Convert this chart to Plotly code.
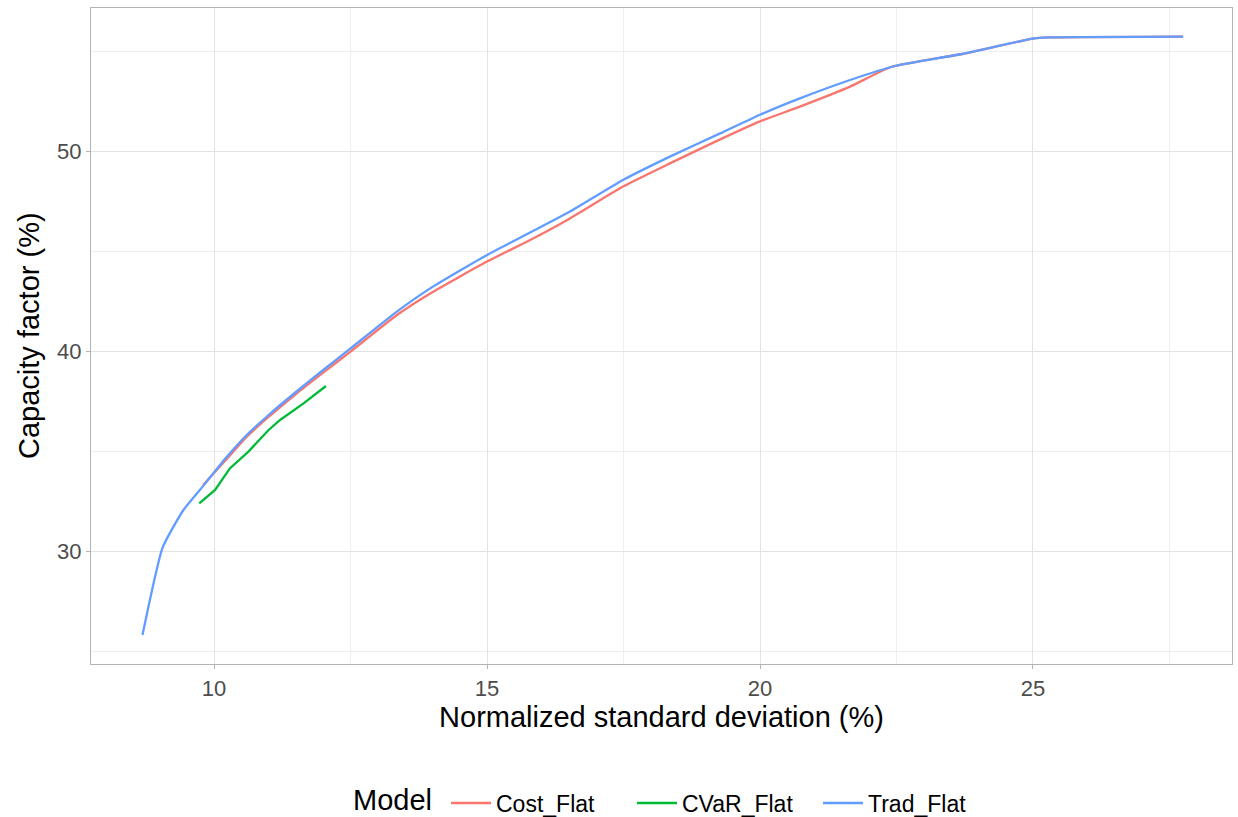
import plotly.graph_objects as go

# Efficient frontiers: normalized standard deviation (%) vs capacity factor (%)
cost_sd = [9.8, 10.2, 10.6, 11.0, 11.5, 12.0, 12.5, 13.35, 13.96, 15.0, 15.79, 16.52,
           17.49, 18.35, 19.27, 19.99, 20.73, 21.65, 22.4, 23.7, 25.0, 25.3, 27.75]
cost_cf = [33.3, 34.5, 35.72, 36.7, 37.85, 38.92, 39.97, 41.8, 42.88, 44.47, 45.55, 46.63,
           48.22, 49.38, 50.58, 51.47, 52.22, 53.22, 54.2, 54.85, 55.62, 55.68, 55.72]

cvar_sd = [9.73, 10.02, 10.29, 10.63, 11.0, 11.21, 11.64, 12.05]
cvar_cf = [32.38, 33.05, 34.13, 34.97, 36.05, 36.55, 37.38, 38.25]

trad_sd = [8.69, 9.06, 9.44, 9.84, 10.2, 10.6, 11.0, 11.5, 12.0, 12.5, 13.35, 13.96, 15.0,
           15.79, 16.52, 17.49, 18.35, 19.27, 19.99, 20.73, 21.65, 22.47, 23.7, 25.0, 25.3, 27.75]
trad_cf = [25.8, 30.18, 32.05, 33.38, 34.6, 35.8, 36.8, 37.95, 39.05, 40.13, 41.97, 43.13, 44.8,
           45.92, 46.97, 48.55, 49.72, 50.88, 51.8, 52.63, 53.55, 54.25, 54.85, 55.62, 55.68, 55.72]

series = [
    ("Cost_Flat", cost_sd, cost_cf, "#F8766D", "spline"),
    ("CVaR_Flat", cvar_sd, cvar_cf, "#00BA38", "linear"),
    ("Trad_Flat", trad_sd, trad_cf, "#619CFF", "spline"),
]

fig = go.Figure()
for name, xs, ys, color, shape in series:
    fig.add_trace(go.Scatter(x=xs, y=ys, mode="lines", name=name,
                             line=dict(color=color, width=2.3, shape=shape,
                                       smoothing=0.5)))

axis_common = dict(
    showgrid=True, gridcolor="#E3E3E3", gridwidth=1,
    minor=dict(showgrid=True, gridcolor="#EFEFEF", gridwidth=1),
    showline=True, mirror=True, linecolor="#B3B3B3", linewidth=1.3,
    ticks="outside", ticklen=4, tickcolor="#B3B3B3", tickwidth=1,
    tickfont=dict(family="Liberation Sans", size=22, color="#4D4D4D"),
    zeroline=False, automargin=False,
)

PLOT_L, PLOT_W = 91, 1141
PLOT_B, PLOT_H = 664, 656

fig.update_xaxes(range=[7.747, 28.645], tickvals=[10, 15, 20, 25],
                 minor_tickvals=[7.5, 12.5, 17.5, 22.5, 27.5],
                 title=dict(text="Normalized standard deviation (%)", standoff=5,
                            font=dict(family="Liberation Sans", size=29, color="black")),
                 **axis_common)
fig.update_yaxes(range=[24.35, 57.15], tickvals=[30, 40, 50],
                 minor_tickvals=[25, 35, 45, 55],
                 **axis_common)

# y-axis title, placed as a rotated label left of the tick labels
fig.add_annotation(text="Capacity factor (%)", textangle=-90, xref="paper", yref="paper",
                   x=(29 - PLOT_L) / PLOT_W, y=0.5, xanchor="center", yanchor="middle",
                   showarrow=False, font=dict(family="Liberation Sans", size=29, color="black"))

# Legend title, drawn to the left of the legend entries
fig.add_annotation(text="Model", xref="paper", yref="paper",
                   x=(351 - PLOT_L) / PLOT_W, y=-(799.5 - PLOT_B) / PLOT_H,
                   xanchor="left", yanchor="middle",
                   showarrow=False, font=dict(family="Liberation Sans", size=29, color="black"))

fig.update_layout(
    width=1238, height=817,
    margin=dict(l=91, r=6, t=8, b=153, autoexpand=False),
    plot_bgcolor="white", paper_bgcolor="white",
    font=dict(family="Liberation Sans"),
    legend=dict(
        orientation="h", x=(446 - PLOT_L) / PLOT_W, xanchor="left", y=-0.212, yanchor="middle",
        font=dict(size=23, color="black"), bgcolor="rgba(0,0,0,0)",
        itemwidth=40, entrywidth=131,
    ),
)

fig.write_html("out.html")
